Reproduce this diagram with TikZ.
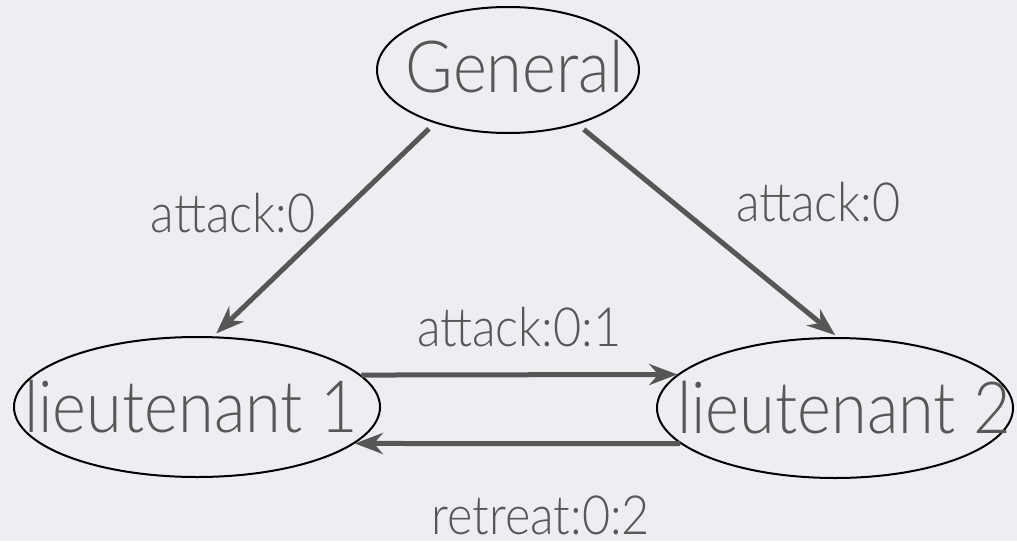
\documentclass[tikz,border=0pt]{standalone}
\usepackage{graphicx}
\usepackage{fontspec}
\setmainfont{Lato Light}
\definecolor{SlideBg}{HTML}{EDEEF1}
\definecolor{InkGray}{HTML}{575757}
\definecolor{ArrowGray}{HTML}{565656}
\usetikzlibrary{arrows.meta,shapes.geometric}
\newcommand{\slim}[1]{\scalebox{0.9}[1]{#1}}
\tikzset{
  general/.style={draw=black, ellipse, line width=2pt, inner sep=0pt, text=InkGray, font=\fontsize{72}{72}\selectfont},
  msg/.style={-{Stealth[length=28pt,width=21pt,inset=9pt]}, line width=5pt, ArrowGray},
  lbl/.style={text=InkGray, font=\fontsize{54}{54}\selectfont}
}
\begin{document}
\begin{tikzpicture}[x=1pt, y=-1pt]
    \fill[SlideBg] (0,0) rectangle (1017,541);
    \useasboundingbox (0,0) rectangle (1017,541);

    \node[general, minimum width=262pt, minimum height=126pt] (gen) at (508,70) {\makebox[0pt]{\hspace*{14pt}\raisebox{8pt}{\slim{General}}}};
    \node[general, minimum width=366pt, minimum height=140pt] (lt1) at (197,407) {\makebox[0pt]{\hspace*{-12pt}\slim{lieutenant 1}}};
    \node[general, minimum width=356pt, minimum height=140pt] (lt2) at (835,408) {\makebox[0pt]{\hspace*{18pt}\slim{lieutenant 2}}};

    \draw[msg, shorten <=8pt, shorten >=4pt] (gen.216.6) -- node[lbl, above left, inner sep=6pt, yshift=-12pt] {\slim{attack:0}} (lt1.77.8);
    \draw[msg, shorten <=8pt, shorten >=3pt] (gen.322.3) -- node[lbl, above right, inner sep=6pt, xshift=20pt] {\slim{attack:0}} (lt2.88.4);
    \draw[msg] (lt1.11) -- node[lbl, above=22pt] {\slim{attack:0:1}} (lt2.168);
    \draw[msg] (lt2.193) -- node[lbl, below=46pt, xshift=23pt] {\slim{retreat:0:2}} (lt1.347);
  \end{tikzpicture}
\end{document}
